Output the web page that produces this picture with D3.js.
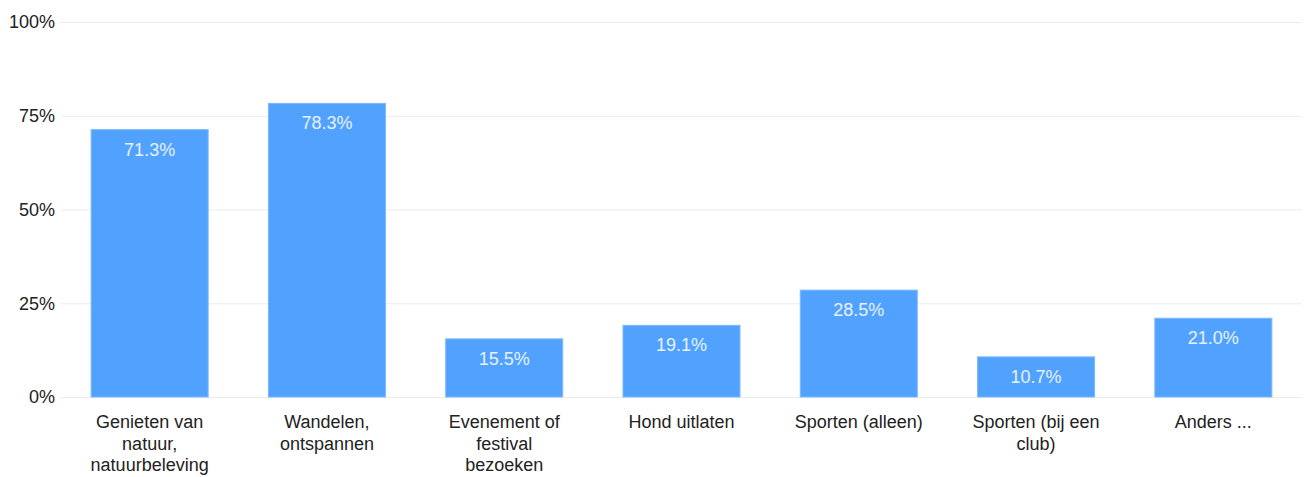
<!DOCTYPE html>
<html>
<head>
<meta charset="utf-8">
<script src="https://cdn.jsdelivr.net/npm/d3@7"></script>
<style>
  html, body { margin: 0; padding: 0; background: #fff; }
  svg { display: block; font-family: "Liberation Sans", Arial, sans-serif; }
</style>
</head>
<body>
<svg id="chart" width="1310" height="477"></svg>
<script>
const categories = [
  "Genieten van natuur, natuurbeleving",
  "Wandelen, ontspannen",
  "Evenement of festival bezoeken",
  "Hond uitlaten",
  "Sporten (alleen)",
  "Sporten (bij een club)",
  "Anders ..."
];
const categoryLines = [
  ["Genieten van", "natuur,", "natuurbeleving"],
  ["Wandelen,", "ontspannen"],
  ["Evenement of", "festival", "bezoeken"],
  ["Hond uitlaten"],
  ["Sporten (alleen)"],
  ["Sporten (bij een", "club)"],
  ["Anders ..."]
];
const values = [71.3, 78.3, 15.5, 19.1, 28.5, 10.7, 21.0];
const yTicks = [0, 25, 50, 75, 100];
const yTickLabels = ["0%", "25%", "50%", "75%", "100%"];

(function () {
  const svg = d3.select("#chart");
  const mLeft = 61, mRight = 1302, mTop = 22, mBottom = 397;

  const x = d3.scaleBand().domain(categories).range([mLeft, mRight]).paddingInner(0.34).paddingOuter(0.17);
  const y = d3.scaleLinear().domain([0, 100]).range([mBottom, mTop]);

  // gridlines
  svg.append("g").selectAll("line").data(yTicks).join("line")
    .attr("x1", mLeft).attr("x2", mRight)
    .attr("y1", d => y(d) + 0.5).attr("y2", d => y(d) + 0.5)
    .attr("stroke", "#ececec").attr("stroke-width", 1);

  // y labels
  svg.append("g").selectAll("text").data(yTicks).join("text")
    .attr("x", 55).attr("y", d => y(d)).attr("dy", "0.35em")
    .attr("text-anchor", "end").attr("font-size", 18).attr("fill", "#222")
    .text((d, i) => yTickLabels[i]);

  // bars
  svg.append("g").selectAll("rect").data(values).join("rect")
    .attr("x", (d, i) => x(categories[i]))
    .attr("y", d => y(d))
    .attr("width", x.bandwidth())
    .attr("height", d => y(0) - y(d))
    .attr("fill", "#51a2ff")
    .attr("stroke", "#7ab8ff").attr("stroke-width", 1);

  // value labels
  svg.append("g").selectAll("text").data(values).join("text")
    .attr("x", (d, i) => x(categories[i]) + x.bandwidth() / 2)
    .attr("y", d => y(d) + 26)
    .attr("text-anchor", "middle").attr("font-size", 18).attr("fill", "#e8f1ff")
    .text(d => d.toFixed(1) + "%");

  // category labels
  const cat = svg.append("g").selectAll("text").data(categories).join("text")
    .attr("text-anchor", "middle").attr("font-size", 18).attr("fill", "#222");
  cat.each(function (d, i) {
    const t = d3.select(this);
    const cx = x(d) + x.bandwidth() / 2;
    categoryLines[i].forEach((line, j) => {
      t.append("tspan").attr("x", cx).attr("y", 428 + j * 21.5).text(line);
    });
  });
})();
</script>
</body>
</html>
